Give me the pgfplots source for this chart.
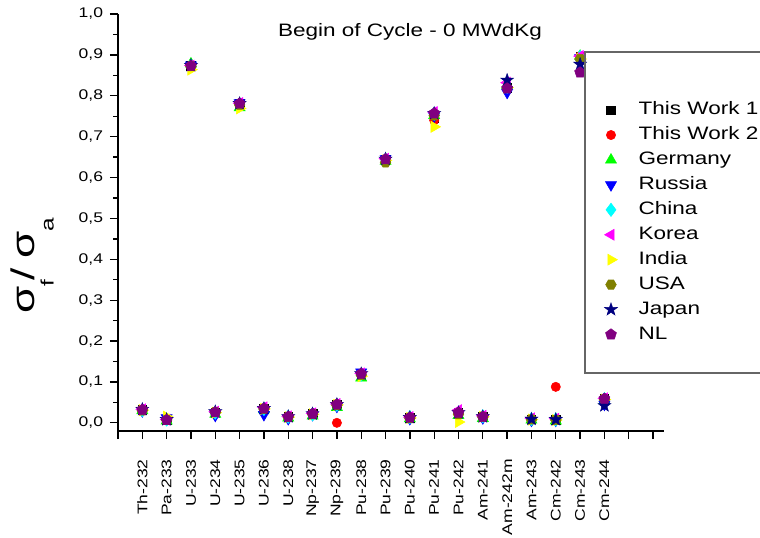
\documentclass[border=0pt]{standalone}
\usepackage{pgfplots}
\pgfplotsset{compat=1.18}
\usepackage{pgfplotstable}
\usepackage{fontspec}
\setmainfont[FakeStretch=1.25]{Liberation Sans}
\newfontfamily\sigfont[FakeStretch=1.35]{Liberation Sans}
\usetikzlibrary{plotmarks}

\definecolor{cGer}{HTML}{00FF00}
\definecolor{cRus}{HTML}{0000FF}
\definecolor{cChi}{HTML}{00FFFF}
\definecolor{cKor}{HTML}{FF00FF}
\definecolor{cInd}{HTML}{FFFF00}
\definecolor{cUSA}{HTML}{808000}
\definecolor{cJap}{HTML}{000080}
\definecolor{cNL}{HTML}{800080}
\definecolor{cTW}{HTML}{FF0000}

\pgfdeclareplotmark{hexagon*}{%
  \pgfpathmoveto{\pgfpointpolar{0}{\pgfplotmarksize}}%
  \pgfpathlineto{\pgfpointpolar{60}{\pgfplotmarksize}}%
  \pgfpathlineto{\pgfpointpolar{120}{\pgfplotmarksize}}%
  \pgfpathlineto{\pgfpointpolar{180}{\pgfplotmarksize}}%
  \pgfpathlineto{\pgfpointpolar{240}{\pgfplotmarksize}}%
  \pgfpathlineto{\pgfpointpolar{300}{\pgfplotmarksize}}%
  \pgfpathclose
  \pgfusepathqfillstroke}
\pgfdeclareplotmark{fstar}{%
  \pgfpathmoveto{\pgfpointpolar{90}{\pgfplotmarksize}}%
  \pgfpathlineto{\pgfpointpolar{126}{0.4\pgfplotmarksize}}%
  \pgfpathlineto{\pgfpointpolar{162}{\pgfplotmarksize}}%
  \pgfpathlineto{\pgfpointpolar{198}{0.4\pgfplotmarksize}}%
  \pgfpathlineto{\pgfpointpolar{234}{\pgfplotmarksize}}%
  \pgfpathlineto{\pgfpointpolar{270}{0.4\pgfplotmarksize}}%
  \pgfpathlineto{\pgfpointpolar{306}{\pgfplotmarksize}}%
  \pgfpathlineto{\pgfpointpolar{342}{0.4\pgfplotmarksize}}%
  \pgfpathlineto{\pgfpointpolar{18}{\pgfplotmarksize}}%
  \pgfpathlineto{\pgfpointpolar{54}{0.4\pgfplotmarksize}}%
  \pgfpathclose
  \pgfusepathqfillstroke}

\pgfplotstableread{
x  tw1    tw2    ger    rus    chi    kor    ind    usa    jap    nl
1  0.032  0.032  0.030  0.029  0.031  0.033  0.031  0.030  0.033  0.032
2  0.007  0.007  0.005  0.012  0.008  0.008  0.015  0.007  0.008  0.007
3  0.873  0.873  0.878  0.875  0.873  0.874  0.864  0.872  0.874  0.873
4  0.026  0.026  0.021  0.018  0.025  0.027  0.025  0.026  0.027  0.026
5  0.781  0.781  0.771  0.783  0.780  0.782  0.769  0.778  0.781  0.781
6  0.035  0.035  0.032  0.020  0.034  0.038  0.034  0.034  0.035  0.035
7  0.015  0.015  0.012  0.010  0.015  0.016  0.014  0.014  0.015  0.015
8  0.022  0.022  0.017  0.020  0.021  0.023  0.021  0.021  0.022  0.022
9  0.045  0.000  0.038  0.040  0.044  0.046  0.044  0.043  0.045  0.045
10 0.120  0.120  0.110  0.124  0.118  0.121  0.114  0.117  0.120  0.120
11 0.645  0.645  0.640  0.646  0.644  0.646  0.642  0.637  0.645  0.645
12 0.013  0.013  0.010  0.010  0.014  0.014  0.012  0.011  0.013  0.013
13 0.745  0.740  0.752  0.750  0.756  0.760  0.724  0.752  0.757  0.757
14 0.025  0.025  0.018  0.022  0.024  0.031  0.002  0.021  0.025  0.025
15 0.015  0.015  0.011  0.012  0.016  0.017  0.015  0.014  0.015  0.015
16 0.820  0.820  0.825  0.808  0.822  0.832  0.820  0.820  0.838  0.818
17 0.009  0.009  0.007  0.006  0.009  0.011  0.008  0.008  0.009  nan
18 0.008  0.088  0.005  0.006  0.008  0.010  0.007  0.007  0.008  nan
19 0.897  0.897  0.897  0.893  0.895  0.897  0.890  0.890  0.877  0.857
20 0.059  0.059  0.055  0.045  0.058  0.060  0.057  0.057  0.042  0.059
}\data

\begin{document}
\begin{tikzpicture}
\path[use as bounding box] (-88.5pt,-79.5pt) rectangle (481.5pt,323.25pt);
\clip (-88.5pt,-79.5pt) rectangle (481.5pt,323.25pt);
\begin{axis}[
  scale only axis,
  width=409.5pt, height=312.75pt,
  at={(0pt,0pt)}, anchor=south west,
  xmin=0, xmax=22.45, ymin=-0.02, ymax=1.0,
  axis x line*=bottom, axis y line*=left,
  axis line style={line width=1.2pt, black},
  tick style={line width=1pt, black},
  tick align=outside,
  major tick length=6pt, minor tick length=3.5pt,
  xtick={0,1,...,22},
  xticklabels={,Th-232,Pa-233,U-233,U-234,U-235,U-236,U-238,Np-237,Np-239,Pu-238,Pu-239,Pu-240,Pu-241,Pu-242,Am-241,Am-242m,Am-243,Cm-242,Cm-243,Cm-244,,},
  ytick={0,0.1,0.2,0.3,0.4,0.5,0.6,0.7,0.8,0.9,1.0},
  minor y tick num=1,
  yticklabel style={/pgf/number format/fixed, /pgf/number format/fixed zerofill, /pgf/number format/precision=1, /pgf/number format/use comma, anchor=east},
  /pgf/number format/assume math mode=true,
  tick label style={font=\fontsize{10.5}{12}\selectfont, inner sep=0pt},
  xticklabel style={rotate=90, anchor=east},
  xticklabel shift=15pt,
  yticklabel shift=5pt,
  clip=false,
  legend style={draw=none, fill=none, at={(0.8907,0.791)}, anchor=north west,
    font=\fontsize{13.5}{16}\selectfont, inner sep=0pt,
    row sep=5.7pt, column sep=0pt,
    nodes={inner sep=0pt, text height=10pt, text depth=3pt}},
  legend cell align=left,
  legend image code/.code={\draw[#1] plot coordinates {(0pt,0pt)};},
]
\addplot[only marks, mark=square*, mark size=3.2pt, color=black] table[x=x,y=tw1]{\data};
\addplot[only marks, mark=*, mark size=3.5pt, color=cTW] table[x=x,y=tw2]{\data};
\addplot[only marks, mark=triangle*, mark size=4.8pt, color=cGer] table[x=x,y=ger]{\data};
\addplot[only marks, mark=triangle*, mark size=4.8pt, mark options={rotate=180}, color=cRus] table[x=x,y=rus]{\data};
\addplot[only marks, mark=diamond*, mark size=5pt, color=cChi] table[x=x,y=chi]{\data};
\addplot[only marks, mark=triangle*, mark size=4.8pt, mark options={rotate=90}, color=cKor] table[x=x,y=kor]{\data};
\addplot[only marks, mark=triangle*, mark size=4.8pt, mark options={rotate=-90}, color=cInd] table[x=x,y=ind]{\data};
\addplot[only marks, mark=hexagon*, mark size=4pt, color=cUSA] table[x=x,y=usa]{\data};
\addplot[only marks, mark=fstar, mark size=5pt, color=cJap] table[x=x,y=jap]{\data};
\addplot[only marks, mark=pentagon*, mark size=4.3pt, color=cNL] table[x=x,y=nl]{\data};
\legend{\hspace{16pt}This Work 1,\hspace{16pt}This Work 2,\hspace{16pt}Germany,\hspace{16pt}Russia,\hspace{16pt}China,\hspace{16pt}Korea,\hspace{16pt}India,\hspace{16pt}USA,\hspace{16pt}Japan,\hspace{16pt}NL}
\end{axis}
\draw[color=black!60, line width=1.1pt] (350.25pt,43.5pt) rectangle (500pt,284.25pt);
\node[anchor=base, inner sep=0pt, font=\fontsize{13.5}{16}\selectfont] at (219pt,296.25pt) {Begin of Cycle - 0 MWdKg};
\node[rotate=90, anchor=base west, inner sep=0pt] at (-62.25pt,88pt)
  {\sigfont\fontsize{24.5}{26}\selectfont σ\raisebox{-14pt}{\fontsize{13.5}{14}\selectfont f}\kern-1pt/\kern7.5ptσ\raisebox{-14pt}{\fontsize{13.5}{14}\selectfont a}};
\end{tikzpicture}
\end{document}
